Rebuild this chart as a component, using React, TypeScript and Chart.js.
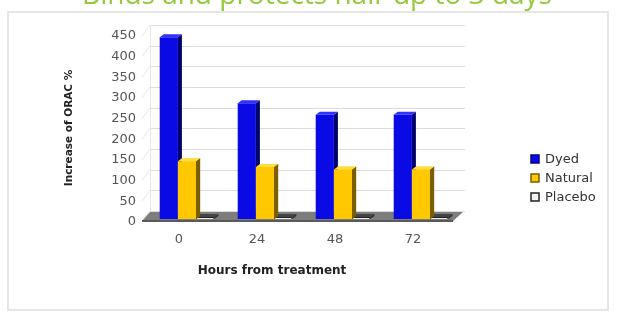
import React, { useEffect, useRef } from 'react';
import { Chart, registerables } from 'chart.js';

Chart.register(...registerables);

const categories = ['0', '24', '48', '72'];
const dyed = [440, 280, 252, 252];
const natural = [140, 126, 120, 120];
const placebo = [0, 0, 0, 0];
const seriesNames = ['Dyed', 'Natural', 'Placebo'];
const yMin = 0;
const yMax = 450;
const yStep = 50;
const chartTitle = 'Binds and protects hair up to 3 days';
const xTitle = 'Hours from treatment';
const yTitle = 'Increase of ORAC %';

const FONT = "'DejaVu Sans', sans-serif";

const faceColors = [
  { side: '#00006c', top: '#3030ff' },
  { side: '#7a5e00', top: '#ffdc40' },
  { side: '#2a2a2a', top: '#444444' },
];

function drawFaces(ctx: any, meta: any, index: number) {
  const fc = faceColors[index] || faceColors[0];
  const dx = 4;
  const dy = -3;
  meta.data.forEach((el: any) => {
    const p = el.getProps(['x', 'y', 'base', 'width'], true);
    const l = p.x - p.width / 2;
    const r = p.x + p.width / 2;
    const top = Math.min(p.y, p.base);
    const bot = Math.max(p.y, p.base);
    ctx.fillStyle = fc.side;
    ctx.beginPath();
    ctx.moveTo(r, top);
    ctx.lineTo(r + dx, top + dy);
    ctx.lineTo(r + dx, bot + dy);
    ctx.lineTo(r, bot);
    ctx.closePath();
    ctx.fill();
    ctx.fillStyle = fc.top;
    ctx.beginPath();
    ctx.moveTo(l, top);
    ctx.lineTo(l + dx, top + dy);
    ctx.lineTo(r + dx, top + dy);
    ctx.lineTo(r, top);
    ctx.closePath();
    ctx.fill();
  });
}

const decorPlugin = {
  id: 'decor',
  beforeDatasetsDraw(chart: any) {
    const { ctx, chartArea, scales } = chart;
    const y = scales.y;
    const left = chartArea.left;
    const right = chartArea.right;
    const z = y.getPixelForValue(0);
    ctx.save();
    for (let v = yMin; v <= yMax; v += yStep) {
      const py = y.getPixelForValue(v);
      ctx.strokeStyle = '#dcdcdc';
      ctx.lineWidth = 1;
      ctx.beginPath();
      ctx.moveTo(left + 2, Math.round(py - 8) + 0.5);
      ctx.lineTo(right + 5, Math.round(py - 8) + 0.5);
      ctx.stroke();
      ctx.strokeStyle = '#ebe8d4';
      ctx.beginPath();
      ctx.moveTo(left - 6, py + 3);
      ctx.lineTo(left + 2, py - 8);
      ctx.stroke();
    }
    ctx.strokeStyle = '#e6e6e6';
    ctx.beginPath();
    ctx.moveTo(left + 2.5, y.getPixelForValue(yMax) - 8);
    ctx.lineTo(left + 2.5, z - 7);
    ctx.stroke();
    ctx.fillStyle = '#7d7d7d';
    ctx.beginPath();
    ctx.moveTo(left - 6, z + 2);
    ctx.lineTo(right - 7, z + 2);
    ctx.lineTo(right + 3, z - 7);
    ctx.lineTo(left + 2, z - 7);
    ctx.closePath();
    ctx.fill();
    ctx.fillStyle = '#5a5a5a';
    ctx.fillRect(left - 6, z + 1, right - 7 - (left - 6), 2);
    ctx.restore();
  },
  afterDatasetDraw(chart: any, args: any) {
    const { ctx } = chart;
    ctx.save();
    drawFaces(ctx, args.meta, args.index);
    ctx.restore();
  },
  afterDatasetsDraw(chart: any) {
    // redraw the Natural bars so they sit in front of the Dyed bars' side faces
    const { ctx, chartArea } = chart;
    const meta = chart.getDatasetMeta(1);
    ctx.save();
    meta.data.forEach((el: any) => el.draw(ctx, chartArea));
    drawFaces(ctx, meta, 1);
    ctx.restore();
  },
  afterDraw(chart: any) {
    const { ctx } = chart;
    ctx.save();
    ctx.strokeStyle = '#e6e6e6';
    ctx.lineWidth = 2;
    ctx.strokeRect(8, 12, 600, 298);
    ctx.fillStyle = '#95c93d';
    ctx.font = `28px 'Open Sans', sans-serif`;
    ctx.textAlign = 'center';
    ctx.textBaseline = 'alphabetic';
    ctx.fillText(chartTitle, 317, 4);
    ctx.fillStyle = '#222';
    ctx.font = `bold 12px ${FONT}`;
    ctx.textBaseline = 'middle';
    ctx.fillText(xTitle, 272, 271);
    ctx.save();
    ctx.translate(69, 128);
    ctx.rotate(-Math.PI / 2);
    ctx.font = `bold 10.5px ${FONT}`;
    ctx.fillText(yTitle, 0, 0);
    ctx.restore();
    const rows = [159, 178, 197];
    ctx.font = `13px ${FONT}`;
    ctx.textAlign = 'left';
    chart.data.datasets.forEach((ds: any, i: number) => {
      const ry = rows[i];
      ctx.fillStyle = ds.backgroundColor;
      ctx.fillRect(531, ry - 4, 8, 8);
      ctx.strokeStyle = ds.borderColor;
      ctx.lineWidth = 1.5;
      ctx.strokeRect(531, ry - 4, 8, 8);
      ctx.fillStyle = '#333';
      ctx.fillText(ds.label, 545, ry + 0.5);
    });
    ctx.restore();
  },
};

export default function App() {
  const ref = useRef<HTMLCanvasElement | null>(null);
  useEffect(() => {
    if (!ref.current) return;
    Chart.defaults.font.family = FONT;
    const chart = new Chart(ref.current, {
      type: 'bar',
      data: {
        labels: categories,
        datasets: [
          {
            label: seriesNames[0],
            data: dyed,
            backgroundColor: '#0a0ae4',
            borderColor: '#000090',
            borderWidth: 0,
          },
          {
            label: seriesNames[1],
            data: natural,
            backgroundColor: '#ffc800',
            borderColor: '#7a5e00',
            borderWidth: 0,
          },
          {
            label: seriesNames[2],
            data: placebo,
            backgroundColor: '#f2f2f2',
            borderColor: '#222222',
            borderWidth: 1,
            minBarLength: 2,
          },
        ],
      },
      options: {
        responsive: false,
        animation: false,
        devicePixelRatio: 1,
        datasets: { bar: { categoryPercentage: 0.7, barPercentage: 1.0 } },
        layout: { padding: { top: 33, right: 158, left: 0, bottom: 0 } },
        plugins: {
          legend: { display: false },
          tooltip: { enabled: false },
          title: { display: false },
        },
        scales: {
          x: {
            grid: { display: false, drawTicks: false },
            border: { display: false },
            ticks: {
              color: '#555',
              font: { size: 13, family: FONT },
              padding: 13,
              labelOffset: -8,
              maxRotation: 0,
            },
            afterFit: (scale: any) => {
              scale.height = 95;
            },
          },
          y: {
            min: yMin,
            max: yMax,
            grid: { display: false, drawTicks: false },
            border: { display: false },
            ticks: {
              stepSize: yStep,
              color: '#555',
              font: { size: 13, family: FONT },
              padding: 12,
              labelOffset: 3,
            },
            afterFit: (scale: any) => {
              scale.width = 148;
            },
          },
        },
      },
      plugins: [decorPlugin],
    } as any);
    return () => chart.destroy();
  }, []);
  return (
    <div style={{ position: 'fixed', left: 0, top: 0, width: 618, height: 314, background: '#fff' }}>
      <canvas ref={ref} width={618} height={314} style={{ display: 'block' }} />
    </div>
  );
}
